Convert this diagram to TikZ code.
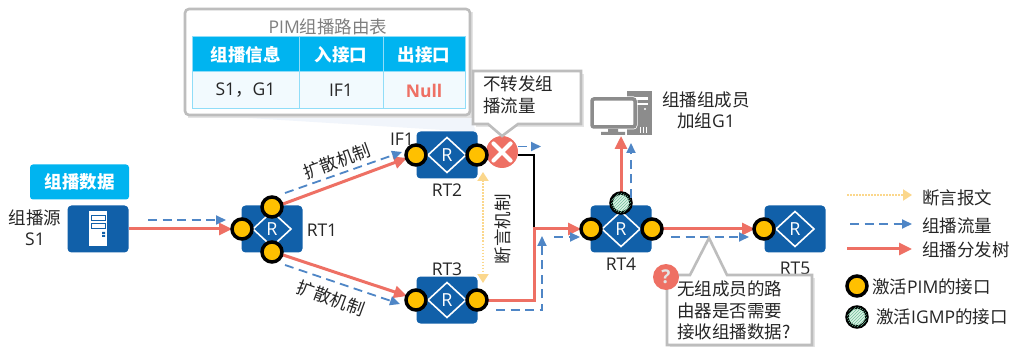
\documentclass[tikz,border=0pt]{standalone}
\usepackage{fontspec}
\setmainfont{Noto Sans CJK SC}
\newfontfamily\lat{Open Sans}
\usetikzlibrary{arrows.meta,patterns,calc}
\definecolor{rtblue}{HTML}{1160A9}
\definecolor{cyanb}{HTML}{00B4F0}
\definecolor{redl}{HTML}{EE7064}
\definecolor{bluel}{HTML}{4F86C6}
\definecolor{yell}{HTML}{FBD78C}
\definecolor{portY}{HTML}{FFC000}
\definecolor{greenp}{HTML}{6FC29A}
\definecolor{greenf}{HTML}{DDF1E6}
\definecolor{bord}{HTML}{BDBDBD}
\definecolor{shad}{HTML}{E4E4E4}
\definecolor{txt}{HTML}{262626}
\definecolor{cellb}{HTML}{F2FAFE}
\definecolor{cellline}{HTML}{90DDF8}
\definecolor{fainttri}{HTML}{F1F5FB}
\definecolor{gtxt}{HTML}{7F7F7F}
\definecolor{pcgray}{HTML}{8C8C8C}
\tikzset{
  x=1pt,y=-1pt,
  lbl/.style={inner sep=0pt,text=txt,font=\fontsize{17.5}{21.5}\selectfont,align=center},
  lblL/.style={lbl,anchor=west,align=left},
  rtbox/.style={fill=rtblue,draw=none,rounded corners=4pt,minimum width=61pt,minimum height=47pt,inner sep=0pt},
  rdiam/.style={draw=white,line width=1.6pt,fill=none,line join=miter},
  portnode/.style={circle,draw=black,line width=3.5pt,fill=portY,minimum size=20pt,inner sep=0pt},
  igmpnode/.style={circle,draw=black,line width=3.5pt,fill=greenf,postaction={pattern=north east lines,pattern color=greenp},minimum size=20pt,inner sep=0pt},
  tree/.style={draw=redl,line width=3pt,-{Triangle[length=13pt,width=12pt]},line join=miter},
  treeplain/.style={draw=redl,line width=3pt},
  flow/.style={draw=bluel,line width=1.8pt,dash pattern=on 9pt off 5.5pt,-{Triangle[length=10pt,width=9pt,fill=bluel]}},
  asserta/.style={draw=yell,line width=2pt,dash pattern=on 1.5pt off 1.5pt,{Triangle[length=9pt,width=11pt,fill=yell]}-{Triangle[length=9pt,width=11pt,fill=yell]}},
  assertb/.style={draw=yell,line width=2pt,dash pattern=on 1.5pt off 1.5pt,-{Triangle[length=9pt,width=11pt,fill=yell]}},
  callout/.style={draw=bord,line width=2.6pt,fill=white,line join=miter},
  hdr/.style={fill=cyanb,draw=cellline,line width=1pt,text=white,inner sep=0pt,font=\fontsize{17.5}{21}\selectfont\bfseries},
  cell/.style={fill=cellb,draw=cellline,line width=1pt,text=txt,inner sep=0pt,font=\fontsize{17.5}{21}\selectfont},
}
\newcommand{\routerat}[2]{%
  \node[rtbox] (#1) at (#2) {};
  \draw[rdiam] ($(#1)+(-19,0)$) -- ($(#1)+(0,-17.5)$) -- ($(#1)+(19,0)$) -- ($(#1)+(0,17.5)$) -- cycle;
  \node[inner sep=0pt,text=white,font=\fontsize{18}{18}\selectfont\lat] at (#1) {R};
}
\begin{document}
\begin{tikzpicture}
\useasboundingbox (0,0) rectangle (1011,347);
\fill[white] (0,0) rectangle (1011,347);

% faint pointer of the table box
\fill[fainttri] (200,115) -- (470,115) -- (476,132) -- cycle;

% routers
\routerat{rta}{272,229}
\routerat{rtb}{447,155}
\routerat{rtc}{447,300}
\routerat{rtd}{621,229}
\routerat{rte}{795,229}

% server
\node[rtbox] (srv) at (98,229) {};
\fill[white] (89,211) rectangle (107,246);
\draw[rtblue,line width=1pt,fill=white] (91,216) rectangle (105,221);
\draw[rtblue,line width=1pt,fill=white] (91,224) rectangle (105,229);
\fill[rtblue] (102,232) rectangle (105,234) (102,235) rectangle (105,237);
\node[fill=cyanb,rounded corners=3pt,minimum width=99pt,minimum height=35pt,inner sep=0pt,text=white,font=\fontsize{17.5}{21}\selectfont\bfseries] (datatag) at (79.5,182) {组播数据};
\node[lbl] (srclbl) at (35,227.5) {组播源\\{\lat S1}};

% tree lines below ports
\coordinate (junc) at (534,229);
\node[circle,fill=redl,minimum size=32pt,inner sep=0pt] (rej) at (502,152) {};
\draw[black,line width=2pt] (rej.east |- 0,155) -- (534,155) -- (junc);
\draw[tree] (srv.east) -- (232,229) coordinate (t0e);
\draw[tree] (283,204) coordinate (t1) -- (407,158) coordinate (t1e);
\draw[tree] (283,255) coordinate (t2) -- (407,296) coordinate (t2e);
\draw[treeplain] (477,300) coordinate (t3) -- (534,300) -- (junc);
\draw[tree] (532.5,229) coordinate (t4) -- (581,229) coordinate (t4e);
\draw[tree] (652,229) coordinate (t5) -- (755,229) coordinate (t5e);
\draw[tree] (621,203) coordinate (t6) -- (621,136) coordinate (t6e);

% ports
\node[portnode] (a1) at (242,229) {};
\node[portnode] (a2) at (272,207) {};
\node[portnode] (a3) at (272,252) {};
\node[portnode] (b1) at (416,155) {};
\node[portnode] (b2) at (477,155) {};
\node[portnode] (c1) at (416,300) {};
\node[portnode] (c2) at (477,300) {};
\node[portnode] (d1) at (591,229) {};
\node[portnode] (d2) at (652,229) {};
\node[igmpnode] (d3) at (621,203) {};
\node[portnode] (e1) at (764,229) {};

% reject mark
\draw[white,line width=4.2pt,line cap=round] ($(rej)+(-8.5,-8.5)$) -- ($(rej)+(8.5,8.5)$) ($(rej)+(8.5,-8.5)$) -- ($(rej)+(-8.5,8.5)$);

% flows
\draw[flow] (148,220) coordinate (f1) -- (226,220) coordinate (f1e);
\draw[flow] (285,193) coordinate (f2) -- (402,152) coordinate (f2e);
\draw[flow] (285,265) coordinate (f3) -- (400,304) coordinate (f3e);
\draw[flow] (518,146.5) coordinate (f4) -- (541,146.5) coordinate (f4e);
\draw[flow] (496,310) coordinate (f5) -- (542,310) -- (542,236) coordinate (f5e);
\draw[flow] (554,237) coordinate (f6) -- (580,237) coordinate (f6e);
\draw[flow] (671,237) coordinate (f7) -- (749,237) coordinate (f7e);
\draw[flow] (631,198) coordinate (f8) -- (631,143) coordinate (f8e);

% assert
\draw[asserta] (483,172) coordinate (as1) -- (483,283) coordinate (as2);

% labels
\node[lbl] (lrta) at (322,230) {\lat RT1};
\node[lbl] (lrtb) at (447,190) {\lat RT2};
\node[lbl] (lrtc) at (447,269) {\lat RT3};
\node[lbl] (lrtd) at (621,264) {\lat RT4};
\node[lbl] (lrte) at (795,268) {\lat RT5};
\node[lbl] (lif) at (402,139) {\lat IF1};
\node[lbl,rotate=20] (k1) at (337,161) {扩散机制};
\node[lbl,rotate=-20] (k2) at (331,298) {扩散机制};
\node[lbl,rotate=90] (k3) at (503,229) {断言机制};

% table box
\fill[shad] (188,12) rectangle (473,118);
\draw[callout,rounded corners=4pt] (185,9) rectangle (470,115);
\node[lbl,text=gtxt] (ttl) at (328,27) {{\lat PIM}组播路由表};
\node[hdr,minimum width=107pt,minimum height=35pt] (h1) at (245.5,54.5) {组播信息};
\node[hdr,minimum width=84pt,minimum height=35pt] (h2) at (341,54.5) {入接口};
\node[hdr,minimum width=82pt,minimum height=35pt] (h3) at (424,54.5) {出接口};
\node[cell,minimum width=107pt,minimum height=37pt] (c11) at (245.5,90.5) {{\lat S1}，{\lat G1}};
\node[cell,minimum width=84pt,minimum height=37pt] (c12) at (341,90.5) {\lat IF1};
\node[cell,minimum width=82pt,minimum height=37pt,text=redl,font=\fontsize{17.5}{21}\selectfont\lat\bfseries] (c13) at (424,90.5) {Null};

% callouts
\fill[shad] (476,74) rectangle (584,127);
\draw[callout] (473,71) -- (581,71) -- (581,124) -- (518,124) -- (502,136) -- (488,124) -- (473,124) -- cycle;
\node[lbl,anchor=north west,align=left,font=\fontsize{17.5}{22}\selectfont] (c1txt) at (483,76) {不转发组\\播流量};

\fill[shad] (670,278) rectangle (815,348);
\draw[callout] (667,275) -- (690,275) -- (709,238) -- (727,275) -- (812,275) -- (812,345) -- (667,345) -- cycle;
\node[lbl,anchor=north west,align=left] (c2txt) at (677,281) {无组成员的路\\由器是否需要\\接收组播数据?};
\node[circle,fill=redl,minimum size=26pt,inner sep=0pt,text=shad,font=\fontsize{19}{19}\selectfont\lat\bfseries] (qm) at (666,277) {?};

% PC
\fill[pcgray] (627,91) rectangle (652,135);
\fill[white] (631,97) rectangle (648,100);
\fill[white] (631,103) rectangle (648,105);
\fill[white] (645,109) circle (1.2);
\draw[white,line width=0.8pt] (640,127) -- (640,133) (643,127) -- (643,133) (646,127) -- (646,133);
\draw[white,line width=5pt,rounded corners=2pt] (592,99) rectangle (635,127);
\draw[pcgray,line width=3.5pt,fill=white,rounded corners=2pt] (592,99) rectangle (635,127) ;
\node[inner sep=0pt,minimum size=0pt] (pc) at (612,113) {};
\fill[pcgray] (608,129) rectangle (618,132) (601,132) rectangle (625,135);
\node[lbl] (pclbl) at (706,110.5) {组播组成员\\加组{\lat G1}};

% legend
\coordinate (lg1) at (847,195); \coordinate (lg1e) at (912,195);
\coordinate (lg2) at (850,224); \coordinate (lg2e) at (912,224);
\coordinate (lg3) at (847,249); \coordinate (lg3e) at (912,249);
\draw[assertb] (lg1) -- (lg1e);
\draw[flow] (lg2) -- (lg2e);
\draw[tree] (lg3) -- (lg3e);
\node[lblL] (lt1) at (922,198) {断言报文};
\node[lblL] (lt2) at (922,226) {组播流量};
\node[lblL] (lt3) at (922,250) {组播分发树};
\node[portnode] (lp1) at (857,286) {};
\node[igmpnode] (lp2) at (857,317) {};
\node[lblL] (lt4) at (872,287) {激活{\lat PIM}的接口};
\node[lblL] (lt5) at (876,317) {激活{\lat IGMP}的接口};
\end{tikzpicture}
\end{document}
